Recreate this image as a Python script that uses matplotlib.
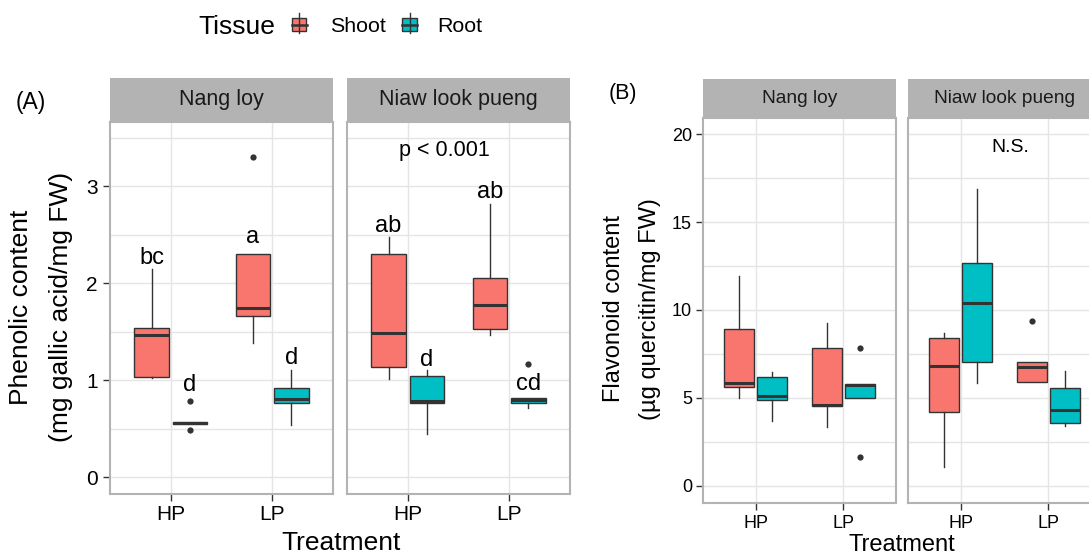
import numpy as np
import matplotlib
matplotlib.use('Agg')
import matplotlib.pyplot as plt
from matplotlib.patches import Rectangle
from matplotlib.lines import Line2D

plt.rcParams['font.family'] = ['Liberation Sans', 'DejaVu Sans']

# ---- data (box stats: whislo, q1, median, q3, whishi), order HP, LP ----
treatments = ['HP', 'LP']
cultivars = ['Nang loy', 'Niaw look pueng']
tissues = ['Shoot', 'Root']

phen_nang_shoot = [[1.02, 1.03, 1.46, 1.54, 2.14], [1.38, 1.66, 1.74, 2.30, 2.30]]
phen_nang_root = [[0.545, 0.545, 0.553, 0.57, 0.57], [0.54, 0.76, 0.80, 0.92, 1.10]]
phen_nang_shoot_out = [[], [3.30]]
phen_nang_root_out = [[0.78, 0.48], []]
phen_nang_letters = ['bc', 'd', 'a', 'd']          # HP shoot, HP root, LP shoot, LP root
phen_nang_letter_y = [2.20, 0.89, 2.41, 1.165]

phen_niaw_shoot = [[1.01, 1.13, 1.48, 2.30, 2.47], [1.46, 1.53, 1.77, 2.05, 2.81]]
phen_niaw_root = [[0.44, 0.765, 0.785, 1.045, 1.10], [0.71, 0.766, 0.79, 0.818, 0.818]]
phen_niaw_shoot_out = [[], []]
phen_niaw_root_out = [[], [1.17]]
phen_niaw_letters = ['ab', 'd', 'ab', 'cd']
phen_niaw_letter_y = [2.53, 1.145, 2.875, 0.90]

flav_nang_shoot = [[4.97, 5.64, 5.83, 8.92, 11.92], [3.36, 4.54, 4.59, 7.82, 9.24]]
flav_nang_root = [[3.68, 4.90, 5.09, 6.19, 6.49], [4.97, 4.97, 5.75, 5.79, 5.79]]
flav_nang_shoot_out = [[], []]
flav_nang_root_out = [[], [7.82, 1.65]]

flav_niaw_shoot = [[1.08, 4.21, 6.81, 8.42, 8.67], [5.92, 5.92, 6.77, 7.04, 7.04]]
flav_niaw_root = [[5.83, 7.06, 10.42, 12.69, 16.89], [3.40, 3.55, 4.31, 5.54, 6.55]]
flav_niaw_shoot_out = [[], [9.39]]
flav_niaw_root_out = [[], []]

colors = {'Shoot': '#F8766D', 'Root': '#00BFC4'}
EDGE = '#333333'
GRID = '#E5E5E5'
BORDER = '#B3B3B3'

W, H = 1089, 554
fig = plt.figure(figsize=(W / 100, H / 100), dpi=100)


def px_axes(x0, y0, x1, y1):
    return fig.add_axes([x0 / W, 1 - y1 / H, (x1 - x0) / W, (y1 - y0) / H])


def fx(x):
    return x / W


def fy(y):
    return 1 - y / H


def to_stats(vals, outs):
    return [dict(whislo=v[0], q1=v[1], med=v[2], q3=v[3], whishi=v[4], fliers=o)
            for v, o in zip(vals, outs)]


def draw_panel(rect, strip_rect, title, shoot, root, shoot_out, root_out,
               ylim, major, minor, first, tick_fs, strip_fs, tick_len, xpad, ypad):
    ax = px_axes(*rect)
    x = np.arange(1, len(treatments) + 1)
    for tis, vals, outs, off in [('Shoot', shoot, shoot_out, -0.19),
                                 ('Root', root, root_out, 0.19)]:
        ax.bxp(to_stats(vals, outs), positions=x + off, widths=0.34,
               patch_artist=True, showcaps=False, manage_ticks=False,
               boxprops=dict(facecolor=colors[tis], edgecolor=EDGE, linewidth=1.0),
               medianprops=dict(color=EDGE, linewidth=2.2),
               whiskerprops=dict(color=EDGE, linewidth=1.0),
               flierprops=dict(marker='o', markersize=4.5, markerfacecolor=EDGE,
                               markeredgecolor='none'))
    ax.set_xlim(0.4, 2.6)
    ax.set_ylim(*ylim)
    ax.set_xticks(x)
    ax.set_xticklabels(treatments, fontsize=tick_fs)
    ax.set_yticks(major)
    ax.set_yticks(minor, minor=True)
    ax.set_yticklabels([str(v) for v in major], fontsize=tick_fs)
    ax.grid(True, which='both', color=GRID, linewidth=1.0)
    ax.set_axisbelow(True)
    ax.tick_params(which='minor', length=0)
    ax.tick_params(axis='x', length=tick_len, color=EDGE, pad=xpad, width=1.0)
    ax.tick_params(axis='y', length=tick_len, color=EDGE, pad=ypad, width=1.0)
    if not first:
        ax.tick_params(axis='y', left=False, labelleft=False)
    for s in ax.spines.values():
        s.set_color(BORDER)
        s.set_linewidth(1.5)
    sax = px_axes(*strip_rect)
    sax.set_facecolor(BORDER)
    sax.set_xticks([])
    sax.set_yticks([])
    for s in sax.spines.values():
        s.set_visible(False)
    sax.text(0.5, 0.5, title, ha='center', va='center', fontsize=strip_fs,
             color='#1A1A1A', transform=sax.transAxes)
    return ax


def add_letters(ax, letters, ys, fs):
    xs = [1 - 0.19, 1 + 0.19, 2 - 0.19, 2 + 0.19]
    for xx, yy, lab in zip(xs, ys, letters):
        ax.text(xx, yy, lab, ha='center', va='baseline', fontsize=fs)


# ---- panel A: phenolic ----
a_major = [0, 1, 2, 3]
a_minor = [0.5, 1.5, 2.5, 3.5]
a_ylim = (-0.175, 3.66)
ax1 = draw_panel((110, 122, 333, 494), (110, 78, 333, 122), cultivars[0],
                 phen_nang_shoot, phen_nang_root, phen_nang_shoot_out, phen_nang_root_out,
                 a_ylim, a_major, a_minor, True, 15, 15.5, 5, 3, 4)
ax2 = draw_panel((347, 122, 570, 494), (347, 78, 570, 122), cultivars[1],
                 phen_niaw_shoot, phen_niaw_root, phen_niaw_shoot_out, phen_niaw_root_out,
                 a_ylim, a_major, a_minor, False, 15, 15.5, 5, 3, 4)
add_letters(ax1, phen_nang_letters, phen_nang_letter_y, 17)
add_letters(ax2, phen_niaw_letters, phen_niaw_letter_y, 17)
ax2.text(1.36, 3.31, 'p < 0.001', ha='center', va='baseline', fontsize=15.5)

# ---- panel B: flavonoid ----
b_major = [0, 5, 10, 15, 20]
b_minor = [2.5, 7.5, 12.5, 17.5]
b_ylim = (-0.99, 20.93)
ax3 = draw_panel((703, 118, 896, 503), (703, 79, 896, 118), cultivars[0],
                 flav_nang_shoot, flav_nang_root, flav_nang_shoot_out, flav_nang_root_out,
                 b_ylim, b_major, b_minor, True, 13, 13.8, 5, 4, 3)
ax4 = draw_panel((908, 118, 1101, 503), (908, 79, 1101, 118), cultivars[1],
                 flav_niaw_shoot, flav_niaw_root, flav_niaw_shoot_out, flav_niaw_root_out,
                 b_ylim, b_major, b_minor, False, 13, 13.8, 5, 4, 3)
ax4.text(1.57, 19.0, 'N.S.', ha='center', va='baseline', fontsize=14)

# ---- axis titles and panel tags ----
fig.text(fx(21), fy(307), 'Phenolic content', rotation=90, ha='center', va='center', fontsize=19)
fig.text(fx(61), fy(307), '(mg gallic acid/mg FW)', rotation=90, ha='center', va='center', fontsize=19)
fig.text(fx(341), fy(550), 'Treatment', ha='center', va='baseline', fontsize=19)
fig.text(fx(614), fy(309), 'Flavonoid content', rotation=90, ha='center', va='center', fontsize=17)
fig.text(fx(650), fy(309), '(\u00b5g quercitin/mg FW)', rotation=90, ha='center', va='center', fontsize=17)
fig.text(fx(902), fy(551), 'Treatment', ha='center', va='baseline', fontsize=17)
fig.text(fx(16), fy(102), '(A)', ha='left', va='center', fontsize=16.5)
fig.text(fx(609), fy(94), '(B)', ha='left', va='center', fontsize=15.5)

# ---- legend ----
fig.text(fx(198), fy(34), 'Tissue', ha='left', va='baseline', fontsize=19)
for tis, cx, tx in [('Shoot', 299, 330), ('Root', 409.5, 437)]:
    fig.add_artist(Line2D([fx(cx), fx(cx)], [fy(12.7), fy(33.3)], color=EDGE, lw=1.0,
                          transform=fig.transFigure))
    fig.add_artist(Rectangle((fx(cx - 7.5), fy(30.7)), 15 / W, 12.4 / H,
                             facecolor=colors[tis], edgecolor=EDGE, lw=1.0,
                             transform=fig.transFigure))
    fig.add_artist(Line2D([fx(cx - 7.5), fx(cx + 7.5)], [fy(24.5), fy(24.5)], color=EDGE,
                          lw=1.8, transform=fig.transFigure))
    fig.text(fx(tx), fy(31.7), tis, ha='left', va='baseline', fontsize=15.4)

fig.savefig('out.png', dpi=100)
